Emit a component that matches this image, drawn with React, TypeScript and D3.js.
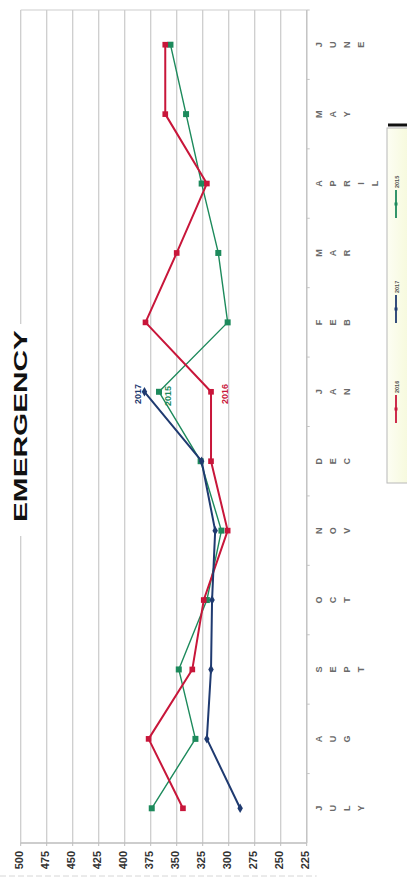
import React from "react";
import * as d3 from "d3";

// Months of the fiscal year, July through June
const months = ["JULY", "AUG", "SEPT", "OCT", "NOV", "DEC", "JAN", "FEB", "MAR", "APRIL", "MAY", "JUNE"];

// Monthly emergency counts per year
const values2015 = [374, 332, 348, 321, 307, 327, 367, 301, 310, 326, 341, 356];
const values2016 = [344, 377, 335, 324, 301, 317, 317, 380, 350, 321, 361, 361];
const values2017 = [289, 321, 317, 316, 313, 326, 381];

const valueTicks = [500, 475, 450, 425, 400, 375, 350, 325, 300, 275, 250, 225];

const legendItems = [
  { name: "2015", color: "#1d8a5c", y: 178 },
  { name: "2017", color: "#1f3a70", y: 283 },
  { name: "2016", color: "#c8163a", y: 383 },
];

const W = 407;
const H = 881;
const FONT = "'Liberation Sans', Arial, Helvetica, sans-serif";

export default function App() {
  const x = d3.scaleLinear().domain([500, 225]).range([20.7, 306.7]);
  const y = d3.scaleBand<string>().domain(months).range([843, 10]);
  const cy = (m: string) => (y(m) as number) + y.bandwidth() / 2;

  const series = [
    { name: "2015", color: "#1d8a5c", width: 1.4, vals: values2015, shape: d3.symbolSquare, size: 36 },
    { name: "2016", color: "#c8163a", width: 2, vals: values2016, shape: d3.symbolSquare, size: 32 },
    { name: "2017", color: "#1f3a70", width: 2, vals: values2017, shape: d3.symbolDiamond, size: 26 },
  ];

  const line = d3
    .line<[string, number]>()
    .x((d) => x(d[1]))
    .y((d) => cy(d[0]));

  const [x0, x1] = x.range();
  const [yb, yt] = [843, 10];

  return (
    <svg
      width={W}
      height={H}
      viewBox={`0 0 ${W} ${H}`}
      style={{ position: "absolute", left: 0, top: 0, background: "#fff" }}
      fontFamily={FONT}
    >
      <defs>
        <linearGradient id="legendFill" x1="0" y1="0" x2="1" y2="0">
          <stop offset="0" stopColor="#fdfef3" />
          <stop offset="1" stopColor="#f6f9dc" />
        </linearGradient>
      </defs>

      {/* vertical gridlines */}
      {valueTicks.map((t) => (
        <line key={t} x1={x(t)} x2={x(t)} y1={yt} y2={yb} stroke="#cdcdcd" strokeWidth={1.3} />
      ))}
      {/* top border */}
      <line x1={x0} x2={x1} y1={yt} y2={yt} stroke="#cdcdcd" strokeWidth={1.2} />
      {/* bottom value axis */}
      <line x1={x0} x2={x1} y1={yb} y2={yb} stroke="#bdbdbd" strokeWidth={1.3} />
      {valueTicks.map((t) => (
        <line key={"tk" + t} x1={x(t)} x2={x(t)} y1={yb} y2={yb + 3} stroke="#bdbdbd" strokeWidth={1} />
      ))}
      {valueTicks.map((t) => (
        <text
          key={"tl" + t}
          transform={`translate(${x(t) + 2},${851}) rotate(-90)`}
          textAnchor="end"
          fontSize={11}
          fontWeight="bold"
          fill="#333"
        >
          {t}
        </text>
      ))}
      <line x1={0} x2={x1 + 10} y1={876} y2={876} stroke="#d6d6d6" strokeWidth={1} strokeDasharray="6 3" />

      {/* category axis on the right */}
      <line x1={x1} x2={x1} y1={yt} y2={yb} stroke="#c4c4c4" strokeWidth={1.3} />
      {months.map((m) => (
        <line key={"ct" + m} x1={x1} x2={x1 + 3} y1={y(m) as number} y2={y(m) as number} stroke="#c4c4c4" />
      ))}
      {months.map((m) => (
        <g key={"ml" + m}>
          {m.split("").map((ch, i) => (
            <text
              key={i}
              transform={`translate(${322 + i * 14},${cy(m)}) rotate(-90)`}
              textAnchor="middle"
              fontSize={9}
              fontWeight="bold"
              fill="#6a6a6a"
            >
              {ch}
            </text>
          ))}
        </g>
      ))}

      {/* title */}
      <rect x={9} y={324} width={22} height={212} fill="#fff" />
      <text
        transform={`translate(27,522) rotate(-90)`}
        fontSize={19}
        fontWeight="bold"
        fill="#111"
        textLength={192}
        lengthAdjust="spacingAndGlyphs"
      >
        EMERGENCY
      </text>

      {/* series */}
      {series.map((s) => {
        const pts: [string, number][] = s.vals.map((v, i) => [months[i], v]);
        return (
          <g key={s.name}>
            <path d={line(pts) as string} fill="none" stroke={s.color} strokeWidth={s.width} strokeLinejoin="round" />
            {pts.map((p, i) => (
              <path
                key={i}
                d={d3.symbol().type(s.shape).size(s.size)() as string}
                transform={`translate(${x(p[1])},${cy(p[0])})`}
                fill={s.color}
              />
            ))}
          </g>
        );
      })}

      {/* year labels at January */}
      <text transform={`translate(${x(381) - 3},${404}) rotate(-90)`} fontSize={9} fontWeight="bold" fill="#1f3a70">
        2017
      </text>
      <text transform={`translate(${x(367) + 12},${406}) rotate(-90)`} fontSize={9} fontWeight="bold" fill="#1d8a5c">
        2015
      </text>
      <text transform={`translate(${x(317) + 17},${404}) rotate(-90)`} fontSize={9} fontWeight="bold" fill="#c8163a">
        2016
      </text>

      {/* legend */}
      <rect x={387} y={128} width={22} height={355} fill="url(#legendFill)" stroke="#b8b8b8" strokeWidth={1} />
      <line x1={388} x2={407} y1={125} y2={125} stroke="#111" strokeWidth={3} />
      {legendItems.map((l) => (
        <g key={l.name}>
          <text
            transform={`translate(${399},${l.y + 10}) rotate(-90)`}
            fontSize={5.5}
            fontWeight="bold"
            fill="#555"
          >
            {l.name}
          </text>
          <line x1={396} x2={396} y1={l.y + 12} y2={l.y + 40} stroke={l.color} strokeWidth={1.8} />
          <rect x={394.5} y={l.y + 24.5} width={3} height={3} fill={l.color} />
        </g>
      ))}
    </svg>
  );
}
